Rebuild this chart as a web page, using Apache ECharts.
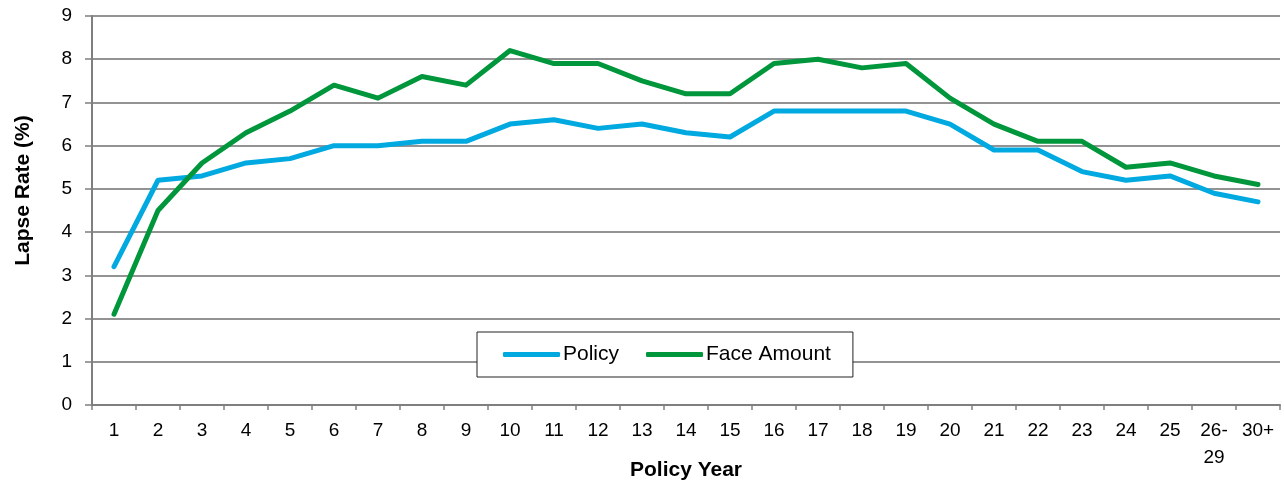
<!DOCTYPE html>
<html>
<head>
<meta charset="utf-8">
<script src="https://cdn.jsdelivr.net/npm/echarts@6/dist/echarts.min.js"></script>
<style>
html,body{margin:0;padding:0;background:#fff;}
#chart{width:1284px;height:487px;}
</style>
</head>
<body>
<div id="chart"></div>
<script>
const categories = ['1','2','3','4','5','6','7','8','9','10','11','12','13','14','15','16','17','18','19','20','21','22','23','24','25','26-\n29','30+'];
const policyValues = [3.2,5.2,5.3,5.6,5.7,6.0,6.0,6.1,6.1,6.5,6.6,6.4,6.5,6.3,6.2,6.8,6.8,6.8,6.8,6.5,5.9,5.9,5.4,5.2,5.3,4.9,4.7];
const faceValues = [2.1,4.5,5.6,6.3,6.8,7.4,7.1,7.6,7.4,8.2,7.9,7.9,7.5,7.2,7.2,7.9,8.0,7.8,7.9,7.1,6.5,6.1,6.1,5.5,5.6,5.3,5.1];
const yTicks = [0,1,2,3,4,5,6,7,8,9];

const chart = echarts.init(document.getElementById('chart'), null, {renderer:'canvas'});
const font = 'Arial, "Liberation Sans", sans-serif';
chart.setOption({
  animation:false,
  textStyle:{fontFamily:font},
  grid:{left:92,right:4,top:16,bottom:82,containLabel:false,outerBoundsMode:'none'},
  legend:{
    left:477, top:332,
    padding:[12,22,12,26],
    itemGap:27, itemWidth:57, itemHeight:5,
    icon:'roundRect',
    backgroundColor:'#fff', borderColor:'#222', borderWidth:1,
    textStyle:{fontSize:21,color:'#000',fontFamily:font,padding:[0,0,0,-2]},
    data:['Policy','Face Amount']
  },
  xAxis:{
    type:'category', data:categories, boundaryGap:true,
    name:'Policy Year', nameLocation:'middle', nameGap:55, nameMoveOverlap:false,
    nameTextStyle:{fontSize:21,fontWeight:'bold',color:'#000',fontFamily:font},
    axisLine:{lineStyle:{color:'#7f7f7f',width:2}},
    axisTick:{show:true,length:5,alignWithLabel:false,lineStyle:{color:'#7f7f7f',width:1.5}},
    axisLabel:{fontSize:19,color:'#000',margin:12,interval:0,lineHeight:27,fontFamily:font},
    splitLine:{show:false}
  },
  yAxis:{
    type:'value', min:yTicks[0], max:yTicks[yTicks.length-1], interval:1,
    name:'Lapse Rate (%)', nameLocation:'middle', nameGap:58, nameMoveOverlap:false,
    nameTextStyle:{fontSize:21,fontWeight:'bold',color:'#000',fontFamily:font,padding:[0,0,0,40]},
    axisLine:{show:true,lineStyle:{color:'#7f7f7f',width:2}},
    axisTick:{show:true,length:7,lineStyle:{color:'#7f7f7f',width:1.5}},
    axisLabel:{fontSize:19,color:'#000',margin:20,fontFamily:font},
    splitLine:{show:true,lineStyle:{color:'#6f6f6f',width:1.5}}
  },
  series:[
    {name:'Policy',type:'line',data:policyValues,symbol:'none',
     lineStyle:{color:'#00a9e0',width:5,cap:'round',join:'round'},itemStyle:{color:'#00a9e0'}},
    {name:'Face Amount',type:'line',data:faceValues,symbol:'none',
     lineStyle:{color:'#00963c',width:5,cap:'round',join:'round'},itemStyle:{color:'#00963c'}}
  ]
});
</script>
</body>
</html>
